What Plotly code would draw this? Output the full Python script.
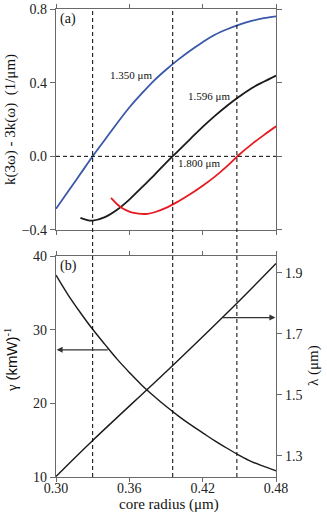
import plotly.graph_objects as go

# panel (a): phase mismatch k(3w) - 3k(w) vs core radius
blue_r = [0.30, 0.31, 0.32, 0.33, 0.34, 0.35, 0.36, 0.37, 0.38, 0.39, 0.40,
          0.41, 0.42, 0.43, 0.44, 0.45, 0.46, 0.47, 0.48]
blue_v = [-0.285, -0.19, -0.095, 0.0, 0.09, 0.18, 0.265, 0.34, 0.41, 0.47, 0.525,
          0.575, 0.62, 0.66, 0.69, 0.715, 0.735, 0.75, 0.76]

black_r = [0.32, 0.325, 0.33, 0.34, 0.35, 0.36, 0.37, 0.38, 0.39, 0.40, 0.41,
           0.42, 0.43, 0.44, 0.45, 0.46, 0.47, 0.48]
black_v = [-0.334, -0.345, -0.349, -0.33, -0.29, -0.235, -0.17, -0.105, -0.035, 0.03, 0.095,
           0.16, 0.22, 0.275, 0.325, 0.37, 0.405, 0.438]

red_r = [0.345, 0.35, 0.355, 0.36, 0.365, 0.37, 0.375, 0.38, 0.39, 0.40, 0.41,
         0.42, 0.43, 0.44, 0.45, 0.46, 0.47, 0.48]
red_v = [-0.226, -0.26, -0.285, -0.30, -0.309, -0.313, -0.312, -0.305, -0.28, -0.245, -0.205,
         -0.16, -0.11, -0.053, 0.01, 0.065, 0.115, 0.163]

# panel (b): nonlinear coefficient and phase-matched wavelength
gamma_r = [0.30, 0.31, 0.32, 0.33, 0.34, 0.35, 0.36, 0.37, 0.38, 0.39, 0.40,
           0.41, 0.42, 0.43, 0.44, 0.45, 0.46, 0.47, 0.48]
gamma_v = [37.4, 34.7, 32.3, 30.05, 28.0, 26.0, 24.2, 22.5, 21.0, 19.6, 18.3,
           17.1, 16.0, 14.9, 13.9, 12.95, 12.1, 11.45, 10.85]

lam_r = [0.30, 0.33, 0.3955, 0.448, 0.48]
lam_v = [1.232, 1.350, 1.596, 1.800, 1.930]

match_r = [0.330, 0.3955, 0.448]
labels = ["1.350 μm", "1.596 μm", "1.800 μm"]
label_pos = [(0.3617, 0.443), (0.4255, 0.326), (0.4174, -0.036)]

FONT = "'Liberation Serif', 'Times New Roman', serif"
AX = "#6a6a6a"

fig = go.Figure()
fig.add_trace(go.Scatter(x=blue_r, y=blue_v, mode="lines", line=dict(color="#3a58a8", width=1.8, shape="spline"),
                         xaxis="x", yaxis="y"))
fig.add_trace(go.Scatter(x=black_r, y=black_v, mode="lines", line=dict(color="#1a1a1a", width=1.8, shape="spline"),
                         xaxis="x", yaxis="y"))
fig.add_trace(go.Scatter(x=red_r, y=red_v, mode="lines", line=dict(color="#e8191f", width=1.8, shape="spline"),
                         xaxis="x", yaxis="y"))
fig.add_trace(go.Scatter(x=gamma_r, y=gamma_v, mode="lines", line=dict(color="#1a1a1a", width=1.4, shape="spline"),
                         xaxis="x2", yaxis="y2"))
fig.add_trace(go.Scatter(x=lam_r, y=lam_v, mode="lines", line=dict(color="#1a1a1a", width=1.4, shape="spline"),
                         xaxis="x2", yaxis="y3"))

# dashed guide lines
for r in match_r:
    fig.add_shape(type="line", xref="x", yref="paper", x0=r, x1=r, y0=0, y1=1,
                  line=dict(color="black", width=1, dash="4px,3px"))
fig.add_shape(type="line", xref="paper", yref="y", x0=0, x1=1, y0=0, y1=0,
              line=dict(color="black", width=1, dash="4px,3px"))

for txt, (lx, ly) in zip(labels, label_pos):
    fig.add_annotation(x=lx, y=ly, xref="x", yref="y", text=txt, showarrow=False,
                       font=dict(family=FONT, size=11, color="#111"))

fig.add_annotation(x=0.302, y=0.8, xref="x", yref="y", text="(a)", showarrow=False,
                   xanchor="left", yanchor="top", font=dict(family=FONT, size=14, color="#111"))
fig.add_annotation(x=0.302, y=40, xref="x2", yref="y2", text="(b)", showarrow=False,
                   xanchor="left", yanchor="top", font=dict(family=FONT, size=14, color="#111"))

# arrows pointing at the relevant axes
fig.add_annotation(x=0.3005, y=27.26, xref="x2", yref="y2", ax=0.3436, ay=27.26, axref="x2", ayref="y2",
                   text="", showarrow=True, arrowhead=2, arrowsize=1, arrowwidth=1.2, arrowcolor="#333")
fig.add_annotation(x=0.4795, y=1.753, xref="x2", yref="y3", ax=0.4354, ay=1.753, axref="x2", ayref="y3",
                   text="", showarrow=True, arrowhead=2, arrowsize=1, arrowwidth=1.2, arrowcolor="#333")

# axis titles as paper annotations so they sit where the reference has them
# plot area: x 56..276, y 9..477 in a 327x521 figure
title_font = dict(family=FONT, size=15, color="#111")
titles = [
    (-0.209, 0.7628, "k(3ω) - 3k(ω)  (1/μm)", -90),
    (-0.2045, 0.25, "γ <span style='font-family:Liberation Sans'>(kmW)</span><sup>-1</sup>", -90),
    (1.168, 0.2393, "λ (μm)", -90),
    (0.5136, -0.0585, "core radius (μm)", 0),
]
for tx, ty, txt, ang in titles:
    fig.add_annotation(x=tx, y=ty, xref="paper", yref="paper", text=txt, textangle=ang,
                       xanchor="center", yanchor="middle", showarrow=False, font=title_font)

axis_common = dict(showline=True, linecolor=AX, linewidth=1.2, ticks="outside", ticklen=5,
                   tickcolor=AX, tickwidth=1.2, showgrid=False, zeroline=False, automargin=False,
                   tickfont=dict(family=FONT, size=14, color="#222"))

fig.update_layout(
    width=327, height=521,
    margin=dict(l=56, r=51, t=9, b=44),
    paper_bgcolor="white", plot_bgcolor="white",
    showlegend=False,
    font=dict(family=FONT),
    xaxis=dict(axis_common, domain=[0, 1], range=[0.30, 0.48], tickvals=[0.30, 0.36, 0.42, 0.48],
               showticklabels=False, mirror="ticks", anchor="y", ticklen=4),
    yaxis=dict(axis_common, domain=[0.5278, 1], range=[-0.4, 0.8], tickvals=[-0.4, 0.0, 0.4, 0.8],
               tickformat=".1f", mirror="ticks", anchor="x"),
    xaxis2=dict(axis_common, domain=[0, 1], range=[0.30, 0.48], tickvals=[0.30, 0.36, 0.42, 0.48],
                tickformat=".2f", mirror="ticks", anchor="y2", ticklen=4, ticklabelstandoff=-6),
    yaxis2=dict(axis_common, domain=[0, 0.4722], range=[10, 40], tickvals=[10, 20, 30, 40],
                anchor="x2"),
    yaxis3=dict(axis_common, range=[1.2303, 1.9547], tickvals=[1.3, 1.5, 1.7, 1.9], tickformat=".1f",
                overlaying="y2", side="right", anchor="x2"),
)

# drop the default 8px body margin so the figure fills the window exactly
fig.write_html("out.html", config={"displayModeBar": False},
               post_script="document.body.style.margin='0';")
